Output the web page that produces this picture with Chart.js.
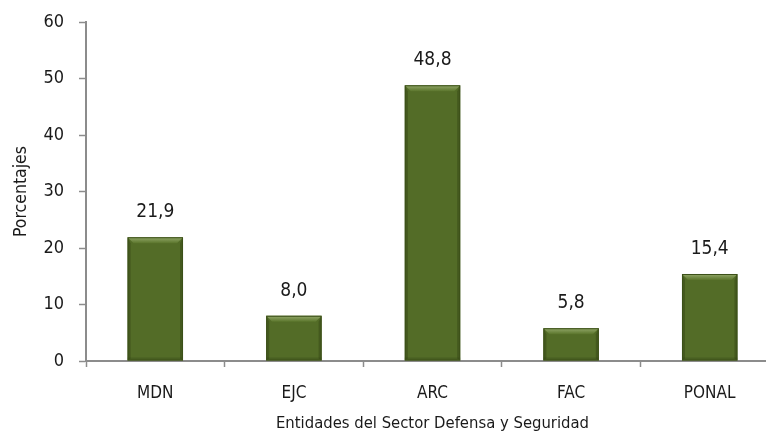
<!DOCTYPE html>
<html>
<head>
<meta charset="utf-8">
<script src="https://cdn.jsdelivr.net/npm/chart.js@4/dist/chart.umd.min.js"></script>
<style>
html,body{margin:0;padding:0;background:#fff;overflow:hidden;}
#wrap{position:relative;width:779px;height:436px;}
</style>
</head>
<body>
<div id="wrap"><canvas id="c"></canvas></div>
<script>
const categories = ["MDN", "EJC", "ARC", "FAC", "PONAL"];
const values = [21.9, 8.0, 48.8, 5.8, 15.4];
const yTicks = [0, 10, 20, 30, 40, 50, 60];
const xTitle = "Entidades del Sector Defensa y Seguridad";
const yTitle = "Porcentajes";
const FONT = '"DejaVu Sans Condensed", sans-serif';

const bevelPlugin = {
  id: 'bevel',
  afterDatasetsDraw(chart) {
    const ctx = chart.ctx;
    const meta = chart.getDatasetMeta(0);
    meta.data.forEach((bar, i) => {
      const w = bar.width;
      const l = bar.x - w / 2, r = bar.x + w / 2;
      const t = bar.y, b = bar.base;
      const d = 6;
      ctx.save();
      let g = ctx.createLinearGradient(0, t, 0, t + d);
      g.addColorStop(0, '#93a86a');
      g.addColorStop(1, '#5a752b');
      ctx.fillStyle = g;
      ctx.beginPath();
      ctx.moveTo(l, t); ctx.lineTo(r, t); ctx.lineTo(r - d, t + d); ctx.lineTo(l + d, t + d); ctx.closePath();
      ctx.fill();
      ctx.fillStyle = 'rgba(40,55,15,0.35)';
      ctx.beginPath();
      ctx.moveTo(l, t); ctx.lineTo(l + 3, t + d); ctx.lineTo(l + 3, b - 2); ctx.lineTo(l, b); ctx.closePath();
      ctx.fill();
      ctx.beginPath();
      ctx.moveTo(r, t); ctx.lineTo(r - 3, t + d); ctx.lineTo(r - 3, b - 2); ctx.lineTo(r, b); ctx.closePath();
      ctx.fill();
      ctx.fillStyle = 'rgba(40,55,15,0.25)';
      ctx.fillRect(l, b - 3, w, 3);
      ctx.strokeStyle = '#3c5019';
      ctx.lineWidth = 1;
      ctx.strokeRect(l + 0.5, t + 0.5, w - 1, b - t - 1);
      ctx.restore();
      ctx.save();
      ctx.fillStyle = '#1a1a1a';
      ctx.font = '19px ' + FONT;
      ctx.textAlign = 'center';
      ctx.textBaseline = 'alphabetic';
      ctx.fillText(values[i].toFixed(1).replace('.', ','), bar.x, t - 20);
      ctx.restore();
    });
  }
};

new Chart(document.getElementById('c'), {
  type: 'bar',
  data: {
    labels: categories,
    datasets: [{
      data: values,
      backgroundColor: '#536c27',
      borderWidth: 0,
      barPercentage: 0.5,
      categoryPercentage: 0.8
    }]
  },
  options: {
    responsive: true,
    maintainAspectRatio: false,
    animation: false,
    layout: { padding: { top: 22, right: 0, left: 0, bottom: 0 } },
    plugins: { legend: { display: false }, tooltip: { enabled: false } },
    scales: {
      x: {
        grid: { drawOnChartArea: false, drawTicks: true, tickLength: 6, tickColor: '#8c8c8c', offset: true, tickWidth: 1.5 },
        border: { color: '#8c8c8c', width: 2 },
        ticks: { color: '#1a1a1a', padding: 16, font: { family: FONT, size: 17 } },
        title: { display: true, text: xTitle, color: '#1a1a1a', padding: { top: 2, bottom: 2 }, font: { family: FONT, size: 16.5 } },
        afterFit(s) { s.height = 75; }
      },
      y: {
        min: 0, max: 60,
        afterBuildTicks(s) { s.ticks = yTicks.map(v => ({ value: v })); },
        grid: { drawOnChartArea: false, drawTicks: true, tickLength: 7, tickColor: '#8c8c8c', tickWidth: 1.5 },
        border: { color: '#8c8c8c', width: 2 },
        ticks: { color: '#1a1a1a', padding: 15, font: { family: FONT, size: 18 } },
        title: { display: true, text: yTitle, color: '#1a1a1a', padding: { top: 11, bottom: 0 }, font: { family: FONT, size: 17.5 } },
        afterFit(s) { s.width = 86; s.paddingTop = 10; s.paddingBottom = 10; }
      }
    }
  },
  plugins: [bevelPlugin]
});
</script>
</body>
</html>
